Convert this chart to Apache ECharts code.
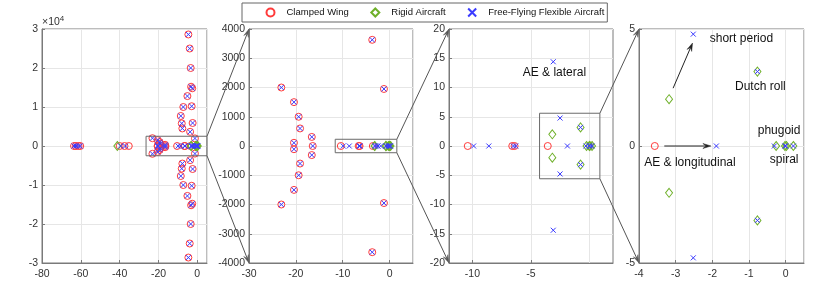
<!DOCTYPE html>
<html><head><meta charset="utf-8">
<script src="https://cdn.jsdelivr.net/npm/echarts@6/dist/echarts.min.js"></script>
<style>html,body{margin:0;padding:0;background:#fff}#c{width:830px;height:293px}</style>
</head><body><div id="c"></div>
<script>
const seriesNames = ['Clamped Wing', 'Rigid Aircraft', 'Free-Flying Flexible Aircraft'];

// Poles [real, imag]
const clampedWing = [
  [-4.6, 28600], [-4.6, -28600], [-3.9, 25000], [-3.9, -25000],
  [-3.4, 20000], [-3.4, -20000], [-3.2, 15200], [-3.2, -15200],
  [-2.6, 14800], [-2.6, -14800], [-5.1, 12800], [-5.1, -12800],
  [-7.2, 10000], [-7.2, -10000], [-2.9, 10200], [-2.9, -10200],
  [-8.5, 7700], [-8.5, -7700], [-8.0, 5800], [-8.0, -5800],
  [-2.4, 5900], [-2.4, -5900], [-7.7, 4500], [-7.7, -4500],
  [-3.7, 3630], [-3.7, -3630], [-1.2, 1950], [-1.2, -1950],
  [-23.1, 2000], [-23.1, -2000], [-20.4, 1500], [-20.4, -1500],
  [-19.4, 1000], [-19.4, -1000], [-19.1, 600], [-19.1, -600],
  [-20.4, 110], [-20.4, -110], [-16.6, 310], [-16.6, -310],
  [-63.5, 0], [-62.5, 0], [-61.2, 0], [-60.3, 0],
  [-40.0, 0], [-37.5, 0], [-35.3, 0], [-16.4, 0],
  [-10.4, 0], [-6.6, 0], [-6.4, 0], [-3.57, 0]
];
const rigidAircraft = [
  [-41.2, 0], [-3.18, 2.0], [-3.18, -2.0], [-0.77, 3.18], [-0.77, -3.18],
  [-0.26, 0], [-0.02, 0], [0.02, 0], [0.21, 0]
];
const flexibleAircraft = [
  [-4.6, 28600], [-4.6, -28600], [-3.9, 25000], [-3.9, -25000],
  [-3.4, 20000], [-3.4, -20000], [-3.2, 15200], [-3.2, -15200],
  [-2.6, 14800], [-2.6, -14800], [-5.1, 12800], [-5.1, -12800],
  [-7.2, 10000], [-7.2, -10000], [-2.9, 10200], [-2.9, -10200],
  [-8.5, 7700], [-8.5, -7700], [-8.0, 5800], [-8.0, -5800],
  [-2.4, 5900], [-2.4, -5900], [-7.7, 4500], [-7.7, -4500],
  [-3.7, 3630], [-3.7, -3630], [-1.2, 1950], [-1.2, -1950],
  [-23.1, 2000], [-23.1, -2000], [-20.4, 1500], [-20.4, -1500],
  [-19.4, 1000], [-19.4, -1000], [-19.1, 600], [-19.1, -600],
  [-20.4, 110], [-20.4, -110], [-16.6, 310], [-16.6, -310],
  [-63.5, 0], [-62.5, 0], [-61.2, 0], [-60.3, 0],
  [-39.5, 0], [-37.0, 0], [-16.4, 0],
  [-9.9, 0], [-8.6, 0], [-6.5, 0], [-6.3, 0],
  [-3.1, 14.4], [-3.1, -14.4], [-2.52, 4.78], [-2.52, -4.78],
  [-1.89, 0], [-0.77, 3.18], [-0.77, -3.18],
  [-0.31, 0], [-0.02, 0], [0.0, 0], [0.21, 0]
];

// Axis ranges of the four panels (zoom levels)
const panelX = [[-80, 5, 20], [-30, 5, 10], [-12, 2, 5], [-4, 0.5, 1]];
const panelY = [[-30000, 30000, 10000], [-4000, 4000, 1000], [-20, 20, 5], [-5, 5, 5]];
const xTickValues3 = [-10, -5, 0];
// zoom boxes drawn in panels 1..3 : [xmin, xmax, ymin, ymax]
const zoomBoxes = [[-26.4, 5, -2500, 2500], [-11.6, 1.55, -230, 230], [-4.27, 0.88, -5.6, 5.6]];

const FONT = '"Liberation Sans", Arial, Helvetica, sans-serif';
const TXT = '#333';
const FRAME = '#7a7a7a';
const GRIDC = '#e6e6e6';
const colors = ['#ff3b3b', '#6fb02a', '#3a3aff'];
const xPath = 'path://M0,0L10,10M10,0L0,10';

const gridPos = [[42, 165], [249, 164], [449, 164], [639, 165]];

const chart = echarts.init(document.getElementById('c'), null, {renderer: 'canvas'});

const grids = gridPos.map(g => ({left: g[0], width: g[1], top: 29, height: 234,
  show: true, borderColor: FRAME, borderWidth: 1, containLabel: false}));

const xAxes = panelX.map((r, i) => {
  const a = {type: 'value', gridIndex: i, min: r[0], max: r[1],
    axisLine: {show: true, onZero: false, lineStyle: {color: FRAME, width: 1}},
    axisTick: {show: true, inside: true, length: 3, lineStyle: {color: FRAME}},
    axisLabel: {color: TXT, fontFamily: FONT, fontSize: 10.5, margin: 6, showMaxLabel: false, showMinLabel: true},
    splitLine: {show: true, lineStyle: {color: GRIDC, width: 1}}};
  if (i === 2) {
    a.axisLabel.customValues = xTickValues3;
    a.axisTick.customValues = xTickValues3;
    a.splitLine.show = false;
  } else {
    a.interval = r[2];
  }
  return a;
});
const yAxes = panelY.map((r, i) => ({type: 'value', gridIndex: i, min: r[0], max: r[1], interval: r[2],
  axisLine: {show: true, onZero: false, lineStyle: {color: FRAME, width: 1}},
  axisTick: {show: true, inside: true, length: 3, lineStyle: {color: FRAME}},
  axisLabel: {color: TXT, fontFamily: FONT, fontSize: 10.5, margin: 4,
    formatter: i === 0 ? (v => String(Math.round(v / 10000))) : (v => String(v))},
  splitLine: {show: true, lineStyle: {color: GRIDC, width: 1}}}));

const seriesData = [clampedWing, rigidAircraft, flexibleAircraft];
const symbols = ['circle', 'diamond', xPath];
const sizes = [7, [7, 9], 5];
const series = [];
for (let p = 0; p < 4; p++) {
  for (let s = 0; s < 3; s++) {
    const sr = {type: 'scatter', name: seriesNames[s], xAxisIndex: p, yAxisIndex: p,
      data: seriesData[s], symbol: symbols[s], symbolSize: sizes[s], clip: true,
      itemStyle: {color: 'none', borderColor: colors[s], borderWidth: 1, opacity: 1},
      emphasis: {disabled: true}, silent: true, z: 2 + s};
    if (p === 2 && s === 0) {
      sr.markLine = {silent: true, symbol: 'none', label: {show: false}, z: 0,
        lineStyle: {color: GRIDC, width: 1, type: 'solid'}, emphasis: {disabled: true},
        data: xTickValues3.map(v => ({xAxis: v}))};
    }
    series.push(sr);
  }
}

chart.setOption({
  animation: false,
  backgroundColor: '#fff',
  grid: grids, xAxis: xAxes, yAxis: yAxes, series: series,
  legend: {left: 242, top: 3, orient: 'horizontal', itemGap: 20, itemWidth: 8, itemHeight: 8,
    padding: [3, 3, 3, 22], borderColor: '#666', borderWidth: 1, backgroundColor: '#fff',
    data: seriesNames.map((n, i) => ({name: n, icon: i === 2 ? xPath : symbols[i]})),
    textStyle: {color: '#111', fontFamily: FONT, fontSize: 9.5, padding: [0, 0, 0, 7]},
    selectedMode: false}
});

// ---- annotations: zoom boxes, connectors, arrows, texts ----
function P(g, pt) { return chart.convertToPixel({gridIndex: g}, pt); }
const gfx = [];
function line(a, b, color, width) {
  gfx.push({type: 'line', shape: {x1: a[0], y1: a[1], x2: b[0], y2: b[1]},
    style: {stroke: color, lineWidth: width}, z: 50, silent: true});
}
function arrow(a, b, color, len, half) {
  const dx = b[0] - a[0], dy = b[1] - a[1];
  const L = Math.sqrt(dx * dx + dy * dy), ux = dx / L, uy = dy / L;
  const base = [b[0] - ux * len, b[1] - uy * len];
  line(a, [b[0] - ux * len * 0.6, b[1] - uy * len * 0.6], color, 1);
  gfx.push({type: 'polygon', shape: {points: [b,
      [base[0] - uy * half, base[1] + ux * half],
      [b[0] - ux * len * 0.6, b[1] - uy * len * 0.6],
      [base[0] + uy * half, base[1] - ux * half]]},
    style: {fill: color, stroke: color, lineWidth: 0.5}, z: 51, silent: true});
}
zoomBoxes.forEach((bx, i) => {
  const tl = P(i, [bx[0], bx[3]]), br = P(i, [bx[1], bx[2]]);
  gfx.push({type: 'rect', shape: {x: tl[0], y: tl[1], width: br[0] - tl[0], height: br[1] - tl[1]},
    style: {fill: 'none', stroke: '#6a6a6a', lineWidth: 1}, z: 50, silent: true});
  const nx = panelX[i + 1][0], ny = panelY[i + 1];
  arrow([br[0], tl[1]], P(i + 1, [nx, ny[1]]), '#555', 8, 2.5);
  arrow([br[0], br[1]], P(i + 1, [nx, ny[0]]), '#555', 8, 2.5);
});
arrow(P(3, [-3.07, 2.47]), P(3, [-2.54, 4.40]), '#222', 8, 2.5);
arrow(P(3, [-3.31, 0]), P(3, [-2.04, 0]), '#222', 8, 2.5);
function text(g, pt, t, align) {
  const q = P(g, pt);
  gfx.push({type: 'text', x: q[0], y: q[1], z: 60, silent: true,
    style: {text: t, fill: '#111', font: '12px ' + FONT, align: align || 'center', verticalAlign: 'middle'}});
}
text(2, [-3.0, 12.6], 'AE & lateral');
text(3, [-2.07, 4.58], 'short period', 'left');
text(3, [-0.69, 2.55], 'Dutch roll');
text(3, [-0.18, 0.67], 'phugoid');
text(3, [-0.04, -0.6], 'spiral');
text(3, [-2.61, -0.72], 'AE & longitudinal');
// x10^4 exponent label of first panel
const e = P(0, [-80, 30000]);
gfx.push({type: 'text', x: e[0], y: e[1] - 7, z: 60, silent: true,
  style: {text: '{a|\u00d710}{b|4}', align: 'left', verticalAlign: 'middle',
    rich: {a: {fontFamily: FONT, fontSize: 10.5, fill: TXT},
           b: {fontFamily: FONT, fontSize: 8, fill: TXT, verticalAlign: 'top', padding: [0, 0, 6, 0]}}}});
chart.setOption({graphic: gfx});
</script></body></html>
